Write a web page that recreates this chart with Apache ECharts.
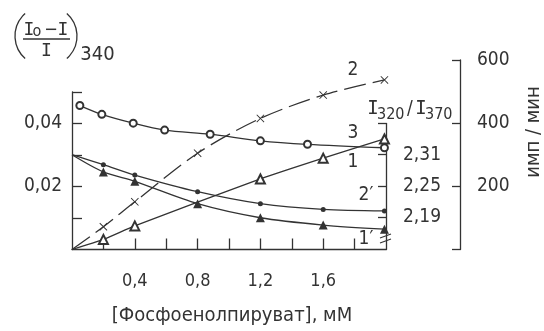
<!DOCTYPE html>
<html><head><meta charset="utf-8">
<script src="https://cdn.jsdelivr.net/npm/echarts@6/dist/echarts.min.js"></script>
<style>html,body{margin:0;padding:0;background:#fff}#c{width:544px;height:331px}</style>
</head><body><div id="c"></div>
<script>
// ---- tick labels ----
const xTickLabels = [0.4, 0.8, 1.2, 1.6];
const xTicks = [0.2, 0.4, 0.6, 0.8, 1.0, 1.2, 1.4, 1.6, 1.8];
const leftTickLabels = [0.02, 0.04];
const leftTicks = [0.01, 0.02, 0.03, 0.04, 0.05];
const ratioTickLabels = [2.19, 2.25, 2.31];
const ratioTicks = [2.19, 2.25, 2.31, 2.37];
const cpmTickLabels = [200, 400, 600];
const cpmTicks = [0, 200, 400, 600];

// ---- series (x = [ФЕП], мМ) ----
// curve 3: open circles, left axis
const circlesX = [0.05, 0.19, 0.39, 0.59, 0.88, 1.2, 1.5, 1.99];
const circlesY = [0.0457, 0.0429, 0.0401, 0.0379, 0.0366, 0.0345, 0.0334, 0.0323];
// curve 1: open triangles, left axis
const openTriX = [0, 0.2, 0.4, 1.2, 1.6, 1.99];
const openTriY = [0, 0.0032, 0.0075, 0.0224, 0.0290, 0.0351];
// curve 2: crosses, имп/мин axis
const crossX = [0, 0.2, 0.4, 0.8, 1.2, 1.6, 1.99];
const crossY = [0, 72, 151, 305, 415, 489, 537];
// curve 2': dots, I320/I370 axis
const dotX = [0, 0.2, 0.4, 0.8, 1.2, 1.6, 1.99];
const dotY = [2.31, 2.291, 2.271, 2.239, 2.216, 2.205, 2.202];
// curve 1': filled triangles, I320/I370 axis
const triX = [0, 0.2, 0.4, 0.8, 1.2, 1.6, 1.99];
const triY = [2.31, 2.277, 2.259, 2.216, 2.189, 2.175, 2.167];

const F = '"DejaVu Sans Condensed", "DejaVu Sans", sans-serif';
const FM = '"DejaVu Sans Mono", monospace';
const INK = '#333';
const comma = v => String(v).replace('.', ',');
const pts = (xs, ys) => xs.map((x, i) => x === 0 ? {value: [x, ys[i]], symbol: 'none'} : [x, ys[i]]);
const crossPath = 'path://M0,0.8L0.8,0L5,4.2L9.2,0L10,0.8L5.8,5L10,9.2L9.2,10L5,5.8L0.8,10L0,9.2L4.2,5Z';

const gridBase = {left: 72, right: 158, bottom: 81.5};
const hiddenX = (g) => ({type: 'value', gridIndex: g, min: 0, max: 2, show: false});
const txt = (x, y, text, size, extra) => Object.assign({type: 'text', x: x, y: y,
  style: Object.assign({text: text, fontFamily: F, fontSize: size, fill: INK, align: 'center', verticalAlign: 'middle'}, extra || {})});

const chart = echarts.init(document.getElementById('c'), null, {renderer: 'canvas'});
chart.setOption({
  animation: false,
  backgroundColor: '#fff',
  grid: [
    Object.assign({top: 92}, gridBase),
    Object.assign({top: 123.5}, gridBase),
    Object.assign({top: 60}, gridBase)
  ],
  xAxis: [
    {type: 'value', gridIndex: 0, min: 0, max: 2,
     axisLine: {show: true, onZero: false, lineStyle: {color: INK, width: 1.3}},
     axisTick: {show: true, inside: true, length: 11, customValues: xTicks, lineStyle: {color: INK, width: 1.3}},
     axisLabel: {customValues: xTickLabels, formatter: comma, color: INK, fontFamily: F, fontSize: 18, margin: 32, verticalAlign: 'middle'},
     splitLine: {show: false}},
    hiddenX(1), hiddenX(2)
  ],
  yAxis: [
    {type: 'value', gridIndex: 0, min: 0, max: 0.05, position: 'left',
     axisLine: {show: true, onZero: false, lineStyle: {color: INK, width: 1.3}},
     axisTick: {show: true, inside: true, length: 10, customValues: leftTicks, lineStyle: {color: INK, width: 1.3}},
     axisLabel: {customValues: leftTickLabels, formatter: comma, color: INK, fontFamily: F, fontSize: 19, margin: 10},
     splitLine: {show: false}},
    {type: 'value', gridIndex: 1, min: 2.128, max: 2.37, position: 'right',
     axisLine: {show: true, onZero: false, lineStyle: {color: INK, width: 1.3}},
     axisTick: {show: true, inside: true, length: 8, customValues: ratioTicks, lineStyle: {color: INK, width: 1.3}},
     axisLabel: {customValues: ratioTickLabels, formatter: comma, color: INK, fontFamily: F, fontSize: 19, margin: 17},
     splitLine: {show: false}},
    {type: 'value', gridIndex: 2, min: 0, max: 600, position: 'right', offset: 74,
     axisLine: {show: true, onZero: false, lineStyle: {color: INK, width: 1.3}},
     axisTick: {show: true, inside: true, length: 8, customValues: cpmTicks, lineStyle: {color: INK, width: 1.3}},
     axisLabel: {customValues: cpmTickLabels, color: INK, fontFamily: F, fontSize: 19, margin: 17},
     splitLine: {show: false}}
  ],
  series: [
    {name: '3', type: 'line', xAxisIndex: 0, yAxisIndex: 0, smooth: 0.3, data: pts(circlesX, circlesY),
     symbol: 'emptyCircle', symbolSize: 7, lineStyle: {color: INK, width: 1.3}, itemStyle: {color: INK, borderWidth: 1}},
    {name: '1', type: 'line', xAxisIndex: 0, yAxisIndex: 0, smooth: 0.2, data: pts(openTriX, openTriY),
     symbol: 'emptyTriangle', symbolSize: 9, lineStyle: {color: INK, width: 1.3}, itemStyle: {color: INK, borderWidth: 1}},
    {name: '2', type: 'line', xAxisIndex: 2, yAxisIndex: 2, smooth: 0.3, data: pts(crossX, crossY),
     symbol: crossPath, symbolSize: 8, lineStyle: {color: INK, width: 1.3, type: [22, 7]}, itemStyle: {color: INK}},
    {name: "2'", type: 'line', xAxisIndex: 1, yAxisIndex: 1, smooth: 0.3, data: pts(dotX, dotY),
     symbol: 'circle', symbolSize: 5, lineStyle: {color: INK, width: 1.3}, itemStyle: {color: INK}},
    {name: "1'", type: 'line', xAxisIndex: 1, yAxisIndex: 1, smooth: 0.3, data: pts(triX, triY),
     symbol: 'triangle', symbolSize: 9, lineStyle: {color: INK, width: 1.3}, itemStyle: {color: INK}}
  ],
  graphic: [
    // ordinate title ((Io - I)/I)340
    {type: 'arc', shape: {cx: 45, cy: 36, r: 30, startAngle: 131.4 * Math.PI / 180, endAngle: 228.6 * Math.PI / 180, clockwise: true},
     style: {stroke: INK, fill: null, lineWidth: 1.3}},
    {type: 'arc', shape: {cx: 47, cy: 36, r: 30, startAngle: -48.6 * Math.PI / 180, endAngle: 48.6 * Math.PI / 180, clockwise: true},
     style: {stroke: INK, fill: null, lineWidth: 1.3}},
    txt(29, 30, 'I', 18, {fontFamily: FM}),
    txt(37, 32, 'o', 16),
    txt(51, 30, '−', 18),
    txt(63, 30, 'I', 18, {fontFamily: FM}),
    {type: 'line', shape: {x1: 23, y1: 39, x2: 70, y2: 39}, style: {stroke: INK, lineWidth: 1.3}},
    txt(46.5, 51, 'I', 18, {fontFamily: FM}),
    txt(97.5, 55, '340', 20),
    // I320/I370
    txt(373, 109, 'I', 19, {fontFamily: FM}),
    txt(377, 115, '320', 16, {align: 'left'}),
    txt(410, 109, '/', 19),
    txt(421, 109, 'I', 19, {fontFamily: FM}),
    txt(425, 115, '370', 16, {align: 'left'}),
    // имп / мин
    {type: 'text', x: 534, y: 132, rotation: Math.PI / 2,
     style: {text: 'имп / мин', fontFamily: F, fontSize: 20, fill: INK, align: 'center', verticalAlign: 'middle'}},
    // abscissa title
    txt(232, 316, '[Фосфоенолпируват], мМ', 20),
    // curve labels
    txt(353, 70, '2', 19),
    txt(353, 133, '3', 19),
    txt(353, 162, '1', 19),
    txt(366, 195, '2′', 19),
    txt(366, 239, '1′', 19),
    // axis break marks on the ratio axis
    {type: 'line', shape: {x1: 380, y1: 238, x2: 391, y2: 234}, style: {stroke: INK, lineWidth: 1.2}},
    {type: 'line', shape: {x1: 380, y1: 243, x2: 391, y2: 239}, style: {stroke: INK, lineWidth: 1.2}}
  ]
});
</script>
</body></html>
